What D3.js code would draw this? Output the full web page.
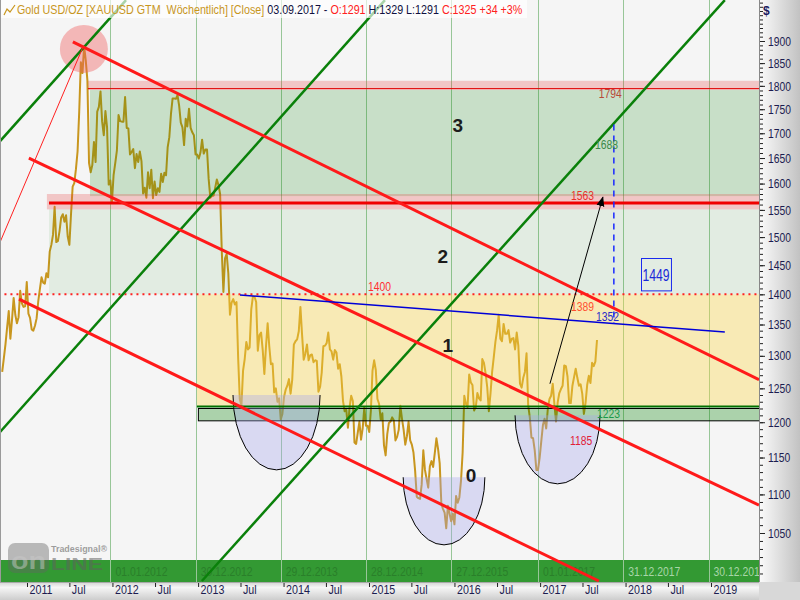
<!DOCTYPE html>
<html>
<head>
<meta charset="utf-8">
<script src="https://cdn.jsdelivr.net/npm/d3@7/dist/d3.min.js"></script>
<style>
html,body{margin:0;padding:0;background:#ffffff;}
svg{display:block;}
text{font-family:"Liberation Sans Narrow","Arial Narrow","Liberation Sans",Arial,sans-serif;}
</style>
</head>
<body>
<svg id="chart" width="800" height="600"></svg>
<script>
// ================= DATA =================
// weekly closes (Friday), first week below
const priceStart = "2010-09-17";
const close2010 = [1275,1296,1318,1345,1372,1327,1358,1394,1366,1352,1362,1406,1385,1379,1380,1421];
const close2011 = [1368,1361,1342,1340,1348,1360,1388,1409,1429,1420,1418,1436,1429,1474,1486,1504,1556,
  1491,1493,1511,1536,1542,1528,1540,1501,1486,1542,1594,1601,1628,1663,1744,1852,1828,1888,1856,1812,1640,1622,
  1636,1682,1642,1745,1755,1788,1724,1696,1746,1712,1598,1606,1566];
const close2012 = [1617,1640,1665,1738,1725,1724,1724,1776,1711,1710,1657,1662,1668,1630,1658,1642,1663,
  1644,1581,1592,1573,1622,1591,1627,1572,1604,1578,1591,1584,1619,1603,1621,1616,1672,1692,1740,1773,1773,1772,
  1780,1757,1722,1712,1676,1730,1714,1751,1711,1702,1696,1657,1657];
const close2013 = [1649,1661,1687,1659,1667,1667,1609,1573,1576,1577,1592,1608,1597,1580,1476,1404,1462,
  1470,1436,1366,1386,1392,1383,1387,1297,1234,1224,1277,1295,1322,1310,1313,1375,1396,1396,1387,1308,1333,1337,
  1309,1272,1315,1352,1315,1287,1288,1244,1250,1230,1235,1204,1212];
const close2014 = [1237,1248,1254,1264,1242,1263,1318,1323,1326,1339,1379,1334,1294,1303,1318,1293,1301,
  1302,1290,1293,1292,1245,1252,1274,1315,1316,1320,1337,1310,1307,1294,1309,1305,1280,1287,1268,1231,1216,1218,
  1192,1222,1239,1231,1171,1169,1185,1201,1175,1191,1222,1195,1195];
const close2015 = [1186,1217,1277,1293,1278,1234,1227,1204,1213,1167,1153,1183,1199,1201,1207,1203,1174,
  1179,1189,1224,1205,1189,1168,1180,1201,1174,1168,1157,1132,1097,1095,1094,1113,1160,1133,1121,1109,1138,1145,
  1137,1156,1177,1162,1142,1088,1081,1076,1056,1085,1075,1065,1075];
const close2016 = [1061,1098,1089,1096,1118,1157,1239,1227,1222,1271,1259,1255,1217,1222,1243,1235,1232,1295,
  1289,1273,1252,1216,1242,1275,1298,1322,1340,1366,1327,1323,1351,1335,1335,1341,1321,1327,1328,1310,1337,1316,
  1257,1251,1266,1275,1304,1225,1207,1178,1177,1160,1133,1133,1150];
const close2017 = [1173,1196,1205,1191,1220,1234,1239,1257,1226,1201,1229,1243,1249,1254,1285,1284,1268,
  1228,1228,1254,1267,1280,1266,1254,1256,1242,1212,1228,1255,1269,1258,1289,1284,1291,1325];

// axes
const yTickLabels = [1050,1100,1150,1200,1250,1300,1350,1400,1450,1500,1550,1600,1650,1700,1750,1800,1850,1900];
const xTickDates = ["2011-01-01","2011-07-01","2012-01-01","2012-07-01","2013-01-01","2013-07-01","2014-01-01","2014-07-01",
  "2015-01-01","2015-07-01","2016-01-01","2016-07-01","2017-01-01","2017-07-01","2018-01-01","2018-07-01","2019-01-01"];
const xTickLabels = ["2011","Jul","2012","Jul","2013","Jul","2014","Jul","2015","Jul","2016","Jul","2017","Jul","2018","Jul","2019"];
const gridDates = ["2012-01-01","2012-12-30","2013-12-29","2014-12-28","2015-12-27","2017-01-01","2017-12-31","2018-12-30"];
const gridLabels = ["01.01.2012","30.12.2012","29.12.2013","28.12.2014","27.12.2015","01.01.2017","31.12.2017","30.12.2018"];

// horizontal zones
const zoneStarts  = ["2011-09-18","2011-09-27","2011-03-27","2011-04-05","2012-12-27"];
const zoneTops    = [1811,1791,1580,1551,1400];
const zoneBottoms = [1791,1576,1551,1400,1223];
// horizontal levels
const levelValues = [1794,1563,1400,1223];
const levelStarts = ["2011-09-18","2011-04-05","2010-09-01","2012-12-27"];
// support box
const supportBox = ["2012-12-31",1221,1203];
// trend lines [date0, price0, date1, price1]
const greenLines = [["2010-09-08",1684,"2012-02-28",1996],["2010-09-08",1186,"2015-03-10",1996],["2013-01-17",991,"2019-03-01",1996]];
const redLines = [["2011-07-16",1898,"2019-07-25",1263],["2011-01-09",1650,"2019-07-25",1086],["2010-11-28",1392,"2017-09-09",991]];
const thinRedLine = ["2010-09-08",1491,"2011-08-28",1886];
const blueLine = ["2013-06-29",1399,"2019-03-01",1338];
const targetLine = ["2017-11-12",1718,1352];
const arrowLine = ["2017-02-12",1257,"2017-09-26",1574];
// bowls [dateLeft, dateRight, priceTop, priceBottom]
const bowls = [["2013-05-30","2014-06-06",1240,1133],["2015-05-27","2016-05-10",1123,1035],["2016-09-16","2017-09-14",1210,1114]];
const peakMark = ["2011-09-01",1882];
// wave labels
const waveLabels = ["3","2","1","0"];
const waveDates = ["2016-01-15","2015-11-12","2015-12-04","2016-03-12"];
const wavePrices = [1715,1465,1317,1125];
// price labels
const priceLabels = ["1794","1688","1563","1400","1389","1352","1223","1185"];
const priceLabelValues = [1794,1688,1563,1400,1389,1352,1223,1185];
const priceLabelDates = ["2017-09-09","2017-08-23","2017-05-13","2014-12-28","2017-05-13","2017-08-28","2017-09-01","2017-05-09"];
// target box
const targetBox = ["2018-03-08","2018-07-14",1463,1407];
const targetBoxLabel = "1449";
// header
const headerParts = ["Gold USD/OZ [XAUUSD GTM  Wöchentlich] [Close]"," 03.09.2017 - ","O:1291"," H:1329 L:1291 ","C:1325 +34 +3%"];

// ================= CHART =================
const W = 800, H = 600, PR = 759, PB = 582;
const parse = d3.utcParse("%Y-%m-%d");
const x = d3.scaleUtc().domain([parse("2011-01-01"), parse("2019-01-01")]).range([27, 711]);
const y = d3.scaleLog().domain([1050, 1900]).range([533, 41]);

// squeeze text horizontally to mimic a narrow face (ratio from a reference width)
function narrowTo(sel, firstWidth){
  const n = sel.node(); if(!n) return;
  const k = firstWidth / n.getComputedTextLength();
  sel.each(function(){
    const L = this.getComputedTextLength();
    d3.select(this).attr("textLength", L*k).attr("lengthAdjust","spacingAndGlyphs");
  });
}

const svg = d3.select("#chart");
const defs = svg.append("defs");
defs.append("clipPath").attr("id","plotClip").append("rect").attr("x",0).attr("y",0).attr("width",PR).attr("height",PB);
const gR = defs.append("linearGradient").attr("id","gR").attr("x1",0).attr("x2",1).attr("y1",0).attr("y2",0);
gR.append("stop").attr("offset","0").attr("stop-color","#fbfbfb");
gR.append("stop").attr("offset","1").attr("stop-color","#c2c2c2");
const gB = defs.append("linearGradient").attr("id","gB").attr("x1",0).attr("x2",0).attr("y1",0).attr("y2",1);
gB.append("stop").attr("offset","0").attr("stop-color","#d2d2d2");
gB.append("stop").attr("offset","0.3").attr("stop-color","#f6f6f6");
gB.append("stop").attr("offset","1").attr("stop-color","#cdcdcd");
defs.append("marker").attr("id","arrowHead").attr("viewBox","0 0 10 10").attr("refX",9).attr("refY",5)
  .attr("markerWidth",10).attr("markerHeight",10).attr("markerUnits","userSpaceOnUse").attr("orient","auto")
  .append("path").attr("d","M0,1 L10,5 L0,9 Z").attr("fill","#000");

// backgrounds
svg.append("rect").attr("width",PR).attr("height",PB).attr("fill","#f5f5f5");
svg.append("rect").attr("x",PR).attr("width",W-PR).attr("height",PB).attr("fill","url(#gR)");
svg.append("rect").attr("y",PB).attr("width",PR).attr("height",H-PB).attr("fill","url(#gB)");
svg.append("rect").attr("x",PR).attr("y",PB).attr("width",W-PR).attr("height",H-PB).attr("fill","#d8d8d8");

const plot = svg.append("g").attr("clip-path","url(#plotClip)");

// bottom band with dates
plot.append("rect").attr("x",0).attr("y",560).attr("width",PR).attr("height",22).attr("fill","#339933");
const bandText = plot.selectAll("text.band").data(gridDates).join("text").attr("class","band")
  .attr("x",d=>x(parse(d))+3).attr("y",576).attr("font-size",13)
  .attr("fill",(d,i)=> i>=6 ? "#a8d6a8" : "#2a7f2a")
  .text((d,i)=>gridLabels[i]);
narrowTo(bandText, 52);

// vertical grid lines
plot.selectAll("line.grid").data(gridDates).join("line").attr("class","grid")
  .attr("x1",d=>Math.round(x(parse(d)))-1.5).attr("x2",d=>Math.round(x(parse(d)))-1.5)
  .attr("y1",0).attr("y2",PB).attr("stroke","#98c698").attr("stroke-width",1);

// watermark logo
const logo = svg.append("g");
logo.append("rect").attr("x",8).attr("y",543).attr("width",41).attr("height",30).attr("rx",7).attr("fill","rgba(100,100,100,0.42)");
logo.append("text").attr("x",11).attr("y",569).attr("font-family","Liberation Sans").attr("font-weight","bold").attr("font-size",24)
  .attr("fill","rgba(200,200,200,0.5)").attr("textLength",35).attr("lengthAdjust","spacingAndGlyphs").text("on");
logo.append("text").attr("x",51).attr("y",570).attr("font-family","Liberation Sans").attr("font-weight","bold").attr("font-size",16)
  .attr("fill","rgba(95,95,95,0.55)").attr("textLength",52).attr("lengthAdjust","spacingAndGlyphs").text("LINE");
logo.append("text").attr("x",51).attr("y",552).attr("font-family","Liberation Sans").attr("font-weight","bold").attr("font-size",8.5)
  .attr("fill","rgba(140,140,140,0.85)").attr("textLength",56).attr("lengthAdjust","spacingAndGlyphs").text("Tradesignal®");

// price line
const closes = [].concat(close2010, close2011, close2012, close2013, close2014, close2015, close2016, close2017);
const start = parse(priceStart);
const series = closes.map((c,i)=>({date: d3.utcDay.offset(start, 7*i), close: c}));
plot.append("path").datum(series)
  .attr("d", d3.line().x(d=>x(d.date)).y(d=>y(d.close)))
  .attr("fill","none").attr("stroke","#c8961e").attr("stroke-width",2).attr("stroke-linejoin","round");

// zones (translucent, over the price)
const zoneFills = ["rgba(230,60,60,0.25)","rgba(0,128,0,0.18)","rgba(230,60,60,0.25)","rgba(0,128,0,0.075)","rgba(255,215,70,0.36)"];
plot.selectAll("rect.zone").data(zoneStarts).join("rect").attr("class","zone")
  .attr("x",d=>x(parse(d))).attr("width",d=>PR-x(parse(d)))
  .attr("y",(d,i)=>y(zoneTops[i])).attr("height",(d,i)=>y(zoneBottoms[i])-y(zoneTops[i]))
  .attr("fill",(d,i)=>zoneFills[i]);

// support box
plot.append("rect").attr("x",x(parse(supportBox[0]))+0.5).attr("y",Math.round(y(supportBox[1]))+0.5)
  .attr("width",PR-x(parse(supportBox[0]))+2).attr("height",y(supportBox[2])-y(supportBox[1]))
  .attr("fill","rgba(0,128,0,0.3)").attr("stroke","#000").attr("stroke-width",1);

// bowls
bowls.forEach(b=>{
  const x0=x(parse(b[0])), x1=x(parse(b[1])), yt=y(b[2]), yb=y(b[3]);
  const rx=(x1-x0)/2, ry=yb-yt;
  plot.append("path").attr("d",`M${x0},${yt} A${rx},${ry} 0 0 0 ${x1},${yt} Z`).attr("fill","rgba(165,165,238,0.35)");
  plot.append("path").attr("d",`M${x0},${yt} A${rx},${ry} 0 0 0 ${x1},${yt}`).attr("fill","none").attr("stroke","#000").attr("stroke-width",1);
});

// peak marker
plot.append("circle").attr("cx",x(parse(peakMark[0]))).attr("cy",y(peakMark[1])).attr("r",24).attr("fill","rgba(240,90,90,0.4)");

// horizontal levels
const levelStyles = [{c:"#e00000",w:1,dash:null},{c:"#f00000",w:3,dash:null},{c:"#ff2020",w:2,dash:"2,4"},{c:"#007000",w:2,dash:null}];
levelValues.forEach((v,i)=>{
  const s = levelStyles[i];
  plot.append("line").attr("x1",x(parse(levelStarts[i]))).attr("x2",PR).attr("y1",y(v)).attr("y2",y(v))
    .attr("stroke",s.c).attr("stroke-width",s.w).attr("stroke-dasharray",s.dash);
});

function seg(l, color, w, dash){
  return plot.append("line").attr("x1",x(parse(l[0]))).attr("y1",y(l[1])).attr("x2",x(parse(l[2]))).attr("y2",y(l[3]))
    .attr("stroke",color).attr("stroke-width",w).attr("stroke-dasharray",dash||null);
}
// trend lines
greenLines.forEach(l=>seg(l,"#0a800a",2.5));
redLines.forEach(l=>seg(l,"#ff1a1a",3));
seg(thinRedLine,"#ff2020",1);
seg(blueLine,"#0000d8",1.5);
plot.append("line").attr("x1",x(parse(targetLine[0]))).attr("x2",x(parse(targetLine[0])))
  .attr("y1",y(targetLine[1])).attr("y2",y(targetLine[2])).attr("stroke","#1a2aff").attr("stroke-width",1.5).attr("stroke-dasharray","6,5");
seg(arrowLine,"#000",1).attr("marker-end","url(#arrowHead)");

// target box
plot.append("rect").attr("x",Math.round(x(parse(targetBox[0])))+0.5).attr("y",Math.round(y(targetBox[2]))+0.5)
  .attr("width",x(parse(targetBox[1]))-x(parse(targetBox[0]))).attr("height",y(targetBox[3])-y(targetBox[2]))
  .attr("fill","none").attr("stroke","#1a2aee").attr("stroke-width",1);
const tbText = plot.append("text").attr("x",(x(parse(targetBox[0]))+x(parse(targetBox[1])))/2 - 13.5).attr("y",y(targetBox[3])-9)
  .attr("font-size",16).attr("fill","#1a2ad8").text(targetBoxLabel);
narrowTo(tbText, 27);

// price labels
const labelDy = [9.5,10,-3,-3,10,-2,12,12];
const labelColors = ["#b84838","#3a8a4a","#e8302a","#ff3030","#ff5030","#2a2ac8","#1a9a4a","#e0203a"];
const pl = plot.selectAll("text.plab").data(priceLabels).join("text").attr("class","plab")
  .attr("x",(t,i)=>x(parse(priceLabelDates[i]))).attr("y",(t,i)=>y(priceLabelValues[i])+labelDy[i])
  .attr("font-size",12.5).attr("fill",(t,i)=>labelColors[i]).text(t=>t);
narrowTo(pl, 23);

// wave labels
waveLabels.forEach((t,i)=>{
  plot.append("text").attr("x",x(parse(waveDates[i]))).attr("y",y(wavePrices[i]))
    .attr("text-anchor","middle").attr("dominant-baseline","central")
    .attr("font-family","Liberation Sans").attr("font-weight","bold").attr("font-size",19).attr("fill","#1c1c1c").text(t);
});

// left border
svg.append("line").attr("x1",0.5).attr("x2",0.5).attr("y1",0).attr("y2",PB).attr("stroke","#9a9a9a");

// header: one text with coloured tspans, squeezed horizontally by a transform
svg.append("rect").attr("x",1).attr("y",0).attr("width",526).attr("height",18).attr("fill","rgba(255,255,255,0.65)");
svg.append("polyline").attr("points","4,15 7,9 10,12 15,5").attr("fill","none").attr("stroke","#c8961e").attr("stroke-width",1.2);
const hdrColors = ["#c8961e","#101040","#ff2020","#101040","#ff2020"];
const hdr = svg.append("text").attr("x",0).attr("y",0).attr("font-size",13).style("white-space","pre");
headerParts.forEach((p,i)=>hdr.append("tspan").attr("fill",hdrColors[i]).text(p));
{
  const k = 506 / hdr.node().getComputedTextLength();
  hdr.attr("transform",`translate(17,14) scale(${k},1)`);
}

// right axis
svg.append("line").attr("x1",PR+0.5).attr("x2",PR+0.5).attr("y1",0).attr("y2",PB).attr("stroke","#888");
const minorVals = d3.range(1000, 2000, 10).filter(v=>y(v)>=2 && y(v)<=PB-2);
const yMinor = svg.append("g").attr("transform",`translate(${PR+1},0)`)
  .call(d3.axisRight(y).tickValues(minorVals).tickSize(3).tickFormat(""));
yMinor.select(".domain").remove();
yMinor.selectAll("line").attr("stroke","#222");
const yMajor = svg.append("g").attr("transform",`translate(${PR+1},0)`)
  .call(d3.axisRight(y).tickValues(yTickLabels).tickSize(5).tickPadding(3).tickFormat(d3.format("d")));
yMajor.select(".domain").remove();
yMajor.selectAll("line").attr("stroke","#222");
const yt = yMajor.selectAll("text").attr("font-size",13).attr("fill","#1c1c50")
  .attr("font-family",'"Liberation Sans Narrow","Arial Narrow","Liberation Sans",sans-serif');
narrowTo(yt, 23);
svg.append("text").attr("x",763).attr("y",15).attr("font-size",12).attr("font-weight","bold").attr("fill","#1c1c60").text("$");

// bottom axis
svg.append("line").attr("x1",0).attr("x2",PR).attr("y1",PB+0.5).attr("y2",PB+0.5).attr("stroke","#a8a8a8");
const xAx = svg.append("g").attr("transform",`translate(0,${PB+1})`)
  .call(d3.axisBottom(x).tickValues(xTickDates.map(parse)).tickSize(4).tickFormat((d,i)=>xTickLabels[i]));
xAx.select(".domain").remove();
xAx.selectAll("line").attr("stroke","#222");
const xt = xAx.selectAll("text").attr("text-anchor","start").attr("dx",2).attr("y",2).attr("font-size",13).attr("fill","#1c1c50")
  .attr("font-family",'"Liberation Sans Narrow","Arial Narrow","Liberation Sans",sans-serif');
narrowTo(xt, 23);
</script>
</body>
</html>
